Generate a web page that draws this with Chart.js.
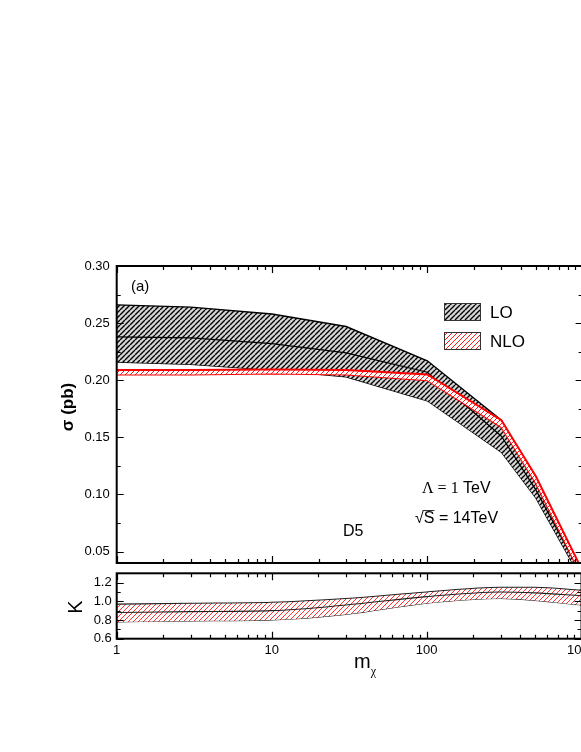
<!DOCTYPE html>
<html>
<head>
<meta charset="utf-8">
<script src="https://cdn.jsdelivr.net/npm/chart.js@4.4.1/dist/chart.umd.min.js"></script>
<style>
  html, body { margin: 0; padding: 0; overflow: hidden; background: #fff; }
  #wrap { position: relative; width: 600px; height: 752px; }
  #wrap canvas { position: absolute; left: 0; top: 0; }
</style>
</head>
<body>
<div id="wrap">
  <canvas id="sigmaChart" width="600" height="752"></canvas>
  <canvas id="kChart" width="600" height="752"></canvas>
</div>
<script>
// m_chi values (GeV) where the curves are sampled
const massPoints = [1, 3, 10, 30, 100, 300, 500, 1000];

// cross section (pb)
const loUpper  = [0.266, 0.264, 0.258, 0.247, 0.217, 0.165, 0.110, 0.032];
const loCenter = [0.238, 0.237, 0.232, 0.224, 0.207, 0.151, 0.104, 0.028];
const loLower  = [0.216, 0.214, 0.209, 0.203, 0.182, 0.137, 0.097, 0.024];
const nloUpper = [0.209, 0.209, 0.2095, 0.209, 0.205, 0.165, 0.116, 0.033];
const nloLower = [0.205, 0.205, 0.206, 0.205, 0.200, 0.159, 0.110, 0.027];

// K factor
const kUpper  = [0.97, 0.98, 0.99, 1.03, 1.10, 1.15, 1.15, 1.12];
const kCenter = [0.88, 0.89, 0.90, 0.96, 1.05, 1.10, 1.09, 1.06];
const kLower  = [0.78, 0.79, 0.80, 0.86, 0.98, 1.03, 1.01, 0.96];

// ticks
const massTicks = [1, 10, 100, 1000];
const sigmaTicks = [0.05, 0.10, 0.15, 0.20, 0.25, 0.30];
const sigmaMinor = [0.075, 0.125, 0.175, 0.225, 0.275];
const kTicks = [0.6, 0.8, 1.0, 1.2];
const kMinor = [0.7, 0.9, 1.1];

const massMinor = [];
for (const d of [1, 10, 100]) for (let i = 2; i <= 9; i++) massMinor.push(d * i);

const FONT = "Arial, 'Liberation Sans', sans-serif";

function pts(ys) {
  return massPoints.map((m, i) => ({ x: m, y: ys[i] }));
}

function hatch(ctx, color, bg, size, width) {
  const c = document.createElement('canvas');
  c.width = c.height = size;
  const g = c.getContext('2d');
  if (bg) { g.fillStyle = bg; g.fillRect(0, 0, size, size); }
  g.strokeStyle = color;
  g.lineWidth = width;
  g.beginPath();
  for (const o of [-size, 0, size]) { g.moveTo(o, size); g.lineTo(o + size, 0); }
  g.stroke();
  return ctx.createPattern(c, 'repeat');
}

// box and inward ticks, like the original plot
const framePlugin = {
  id: 'frame',
  afterDatasetsDraw(chart, args, opts) {
    const { ctx, chartArea: a } = chart;
    const x = chart.scales.x, y = chart.scales.y;
    ctx.save();
    ctx.strokeStyle = '#000';
    ctx.lineWidth = 1.2;
    ctx.beginPath();
    const vt = (vals, len) => vals.forEach(v => {
      const px = Math.round(x.getPixelForValue(v)) + 0.5;
      ctx.moveTo(px, a.bottom); ctx.lineTo(px, a.bottom - len);
      ctx.moveTo(px, a.top); ctx.lineTo(px, a.top + len);
    });
    const ht = (vals, len) => vals.forEach(v => {
      const py = Math.round(y.getPixelForValue(v)) + 0.5;
      ctx.moveTo(a.left, py); ctx.lineTo(a.left + len, py);
      ctx.moveTo(a.right, py); ctx.lineTo(a.right - len, py);
    });
    vt(massTicks, 7); vt(massMinor, 4);
    ht(opts.yMajor, 7); ht(opts.yMinor, 4);
    ctx.stroke();
    ctx.lineWidth = 2;
    ctx.strokeRect(a.left, a.top, a.right - a.left, a.bottom - a.top);
    ctx.restore();
  }
};

const sigmaNotes = {
  id: 'sigmaNotes',
  afterDraw(chart) {
    const ctx = chart.ctx;
    ctx.save();
    ctx.fillStyle = '#000';
    ctx.textBaseline = 'alphabetic';
    ctx.font = '15px ' + FONT;
    ctx.fillText('(a)', 131, 291);

    // legend
    ctx.fillStyle = chart.$loLegend;
    ctx.fillRect(444, 303, 36, 17);
    ctx.strokeStyle = '#333'; ctx.lineWidth = 1;
    ctx.strokeRect(444.5, 303.5, 36, 17);
    ctx.fillStyle = chart.$nloLegend;
    ctx.fillRect(444, 332, 36, 17);
    ctx.strokeRect(444.5, 332.5, 36, 17);
    ctx.fillStyle = '#000';
    ctx.font = '17px ' + FONT;
    ctx.fillText('LO', 490, 318);
    ctx.fillText('NLO', 490, 347);

    // Lambda and sqrt(S)
    ctx.font = "16px 'Liberation Serif', 'Times New Roman', serif";
    const lam = '\u039B = 1';
    ctx.fillText(lam, 422, 493);
    const lw = ctx.measureText(lam).width;
    ctx.font = '16px ' + FONT;
    ctx.fillText(' TeV', 422 + lw, 493);

    const rt = '\u221A';
    ctx.fillText(rt + 'S = 14TeV', 415, 523);
    const rw = ctx.measureText(rt).width;
    const sw = ctx.measureText('S').width;
    ctx.lineWidth = 1;
    ctx.beginPath();
    ctx.moveTo(415 + rw - 1, 510.5);
    ctx.lineTo(415 + rw + sw, 510.5);
    ctx.stroke();

    ctx.fillText('D5', 343, 536);

    // y title
    ctx.save();
    ctx.translate(73, 407);
    ctx.rotate(-Math.PI / 2);
    ctx.textAlign = 'center';
    ctx.font = 'bold 17px ' + FONT;
    ctx.fillText('\u03C3 (pb)', 0, 0);
    ctx.restore();
    ctx.restore();
  }
};

const kNotes = {
  id: 'kNotes',
  afterDraw(chart) {
    const ctx = chart.ctx;
    ctx.save();
    ctx.fillStyle = '#000';
    ctx.save();
    ctx.translate(82, 607);
    ctx.rotate(-Math.PI / 2);
    ctx.textAlign = 'center';
    ctx.font = '20px ' + FONT;
    ctx.fillText('K', 0, 0);
    ctx.restore();
    ctx.font = '20px ' + FONT;
    ctx.fillText('m', 354, 668);
    const mw = ctx.measureText('m').width;
    ctx.font = "12px 'Liberation Serif', serif";
    ctx.fillText('\u03C7', 354 + mw, 675);
    ctx.restore();
  }
};

const sigmaCanvas = document.getElementById('sigmaChart');
const sctx = sigmaCanvas.getContext('2d');
const loFill = hatch(sctx, '#000', '#d6d6d6', 5, 1.4);
const nloFill = hatch(sctx, '#ff1a1a', '#ffffff', 5, 1);

const sigmaChart = new Chart(sctx, {
  type: 'line',
  data: {
    datasets: [
      { label: 'NLO', data: pts(nloUpper), borderColor: '#ff0000', borderWidth: 2, fill: '+1', backgroundColor: nloFill },
      { label: 'NLO low', data: pts(nloLower), borderColor: '#ff0000', borderWidth: 2, fill: false },
      { label: 'LO mid', data: pts(loCenter), borderColor: '#000', borderWidth: 1.2, fill: false },
      { label: 'LO', data: pts(loUpper), borderColor: '#000', borderWidth: 1.4, fill: '+1', backgroundColor: loFill },
      { label: 'LO low', data: pts(loLower), borderColor: '#000', borderWidth: 1.4, fill: false },
    ]
  },
  options: {
    responsive: false,
    animation: false,
    layout: { padding: { left: 0, top: 266, right: 17.4, bottom: 189 } },
    elements: { point: { radius: 0 }, line: { tension: 0 } },
    plugins: {
      legend: { display: false },
      tooltip: { enabled: false },
      frame: { yMajor: sigmaTicks, yMinor: sigmaMinor }
    },
    scales: {
      x: { type: 'logarithmic', min: 1, max: 1000, display: false },
      y: {
        min: 0.04, max: 0.30,
        afterFit: s => { s.width = 116.7; },
        afterBuildTicks: s => { s.ticks = sigmaTicks.map(v => ({ value: v })); },
        grid: { display: false, drawTicks: false },
        border: { display: false },
        ticks: { padding: 7, color: '#000', font: { family: FONT, size: 13 }, callback: v => Number(v).toFixed(2) }
      }
    }
  },
  plugins: [framePlugin, sigmaNotes]
});
sigmaChart.$loLegend = loFill;
sigmaChart.$nloLegend = nloFill;
sigmaChart.draw();

const kCanvas = document.getElementById('kChart');
const kctx = kCanvas.getContext('2d');
const kFill = hatch(kctx, '#ff3030', '#ffffff', 5, 1);

new Chart(kctx, {
  type: 'line',
  data: {
    datasets: [
      { label: 'K', data: pts(kCenter), borderColor: '#222', borderWidth: 1.1, fill: false },
      { label: 'K up', data: pts(kUpper), borderColor: '#222', borderWidth: 1.1, fill: '+1', backgroundColor: kFill },
      { label: 'K low', data: pts(kLower), borderColor: '#222', borderWidth: 1.1, fill: false },
    ]
  },
  options: {
    responsive: false,
    animation: false,
    layout: { padding: { left: 0, top: 573.3, right: 17.4, bottom: 93.3 } },
    elements: { point: { radius: 0 }, line: { tension: 0.4, cubicInterpolationMode: 'monotone' } },
    plugins: {
      legend: { display: false },
      tooltip: { enabled: false },
      frame: { yMajor: kTicks, yMinor: kMinor }
    },
    scales: {
      x: {
        type: 'logarithmic', min: 1, max: 1000,
        afterFit: s => { s.height = 20; },
        afterBuildTicks: s => { s.ticks = massTicks.map(v => ({ value: v })); },
        grid: { display: false, drawTicks: false },
        border: { display: false },
        ticks: { padding: 4, color: '#000', maxRotation: 0, font: { family: FONT, size: 13 }, callback: v => String(v) }
      },
      y: {
        min: 0.6, max: 1.3,
        afterFit: s => { s.width = 116.7; },
        afterBuildTicks: s => { s.ticks = kTicks.map(v => ({ value: v })); },
        grid: { display: false, drawTicks: false },
        border: { display: false },
        ticks: { padding: 5, color: '#000', font: { family: FONT, size: 13 }, callback: v => Number(v).toFixed(1) }
      }
    }
  },
  plugins: [framePlugin, kNotes]
});
</script>
</body>
</html>
